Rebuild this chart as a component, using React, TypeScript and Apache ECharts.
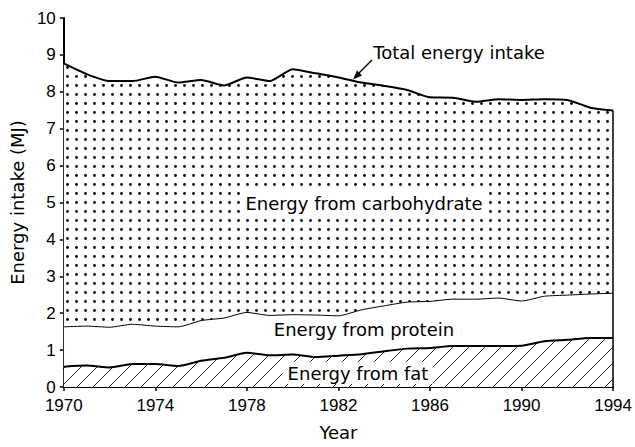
import React, { useEffect, useRef } from "react";
import * as echarts from "echarts";

const years = [
  "1970", "1971", "1972", "1973", "1974", "1975", "1976", "1977", "1978", "1979",
  "1980", "1981", "1982", "1983", "1984", "1985", "1986", "1987", "1988", "1989",
  "1990", "1991", "1992", "1993", "1994",
];
const fat = [
  0.55, 0.58, 0.53, 0.62, 0.62, 0.57, 0.71, 0.79, 0.93, 0.86,
  0.88, 0.81, 0.85, 0.89, 0.97, 1.04, 1.06, 1.11, 1.11, 1.11,
  1.12, 1.24, 1.28, 1.33, 1.33,
];
const protein = [
  1.08, 1.07, 1.09, 1.08, 1.03, 1.06, 1.09, 1.08, 1.09, 1.08,
  1.08, 1.14, 1.08, 1.2, 1.23, 1.26, 1.26, 1.27, 1.27, 1.3,
  1.21, 1.22, 1.21, 1.19, 1.21,
];
const carbohydrate = [
  7.14, 6.83, 6.67, 6.59, 6.76, 6.62, 6.52, 6.3, 6.37, 6.35,
  6.65, 6.55, 6.46, 6.16, 5.96, 5.75, 5.53, 5.46, 5.35, 5.39,
  5.45, 5.34, 5.29, 5.05, 4.95,
];
const yTicks = { min: 0, max: 10, interval: 1 };
const labels = {
  total: "Total energy intake",
  carbohydrate: "Energy from carbohydrate",
  protein: "Energy from protein",
  fat: "Energy from fat",
  xName: "Year",
  yName: "Energy intake (MJ)",
};

function dotCanvas() {
  const c = document.createElement("canvas");
  c.width = 9;
  c.height = 9;
  const ctx = c.getContext("2d")!;
  ctx.fillStyle = "#fff";
  ctx.fillRect(0, 0, 9, 9);
  ctx.fillStyle = "#000";
  ctx.beginPath();
  ctx.arc(4.5, 4.5, 1.4, 0, Math.PI * 2);
  ctx.fill();
  return c;
}

function hatchCanvas() {
  const s = 16;
  const c = document.createElement("canvas");
  c.width = s;
  c.height = s;
  const ctx = c.getContext("2d")!;
  ctx.fillStyle = "#fff";
  ctx.fillRect(0, 0, s, s);
  ctx.strokeStyle = "#222";
  ctx.lineWidth = 1;
  for (const off of [-s, 0, s]) {
    ctx.beginPath();
    ctx.moveTo(off, s);
    ctx.lineTo(off + s, 0);
    ctx.stroke();
  }
  return c;
}

const FONT = "DejaVu Sans";
const TICKFONT = "Liberation Sans";

export default function App() {
  const ref = useRef<HTMLDivElement>(null);
  useEffect(() => {
    if (!ref.current) return;
    const chart = echarts.init(ref.current, undefined, { renderer: "svg" });
    const dots = dotCanvas();
    const hatch = hatchCanvas();
    const last = years.length - 1;
    const totalLast = fat[last] + protein[last] + carbohydrate[last];
    chart.setOption({
      animation: false,
      backgroundColor: "#fff",
      grid: { left: 63, right: 19, top: 18, bottom: 60 },
      xAxis: {
        type: "category",
        data: years,
        boundaryGap: false,
        name: labels.xName,
        nameLocation: "middle",
        nameGap: 36,
        nameTextStyle: { fontFamily: FONT, fontSize: 18, color: "#000" },
        axisLine: { lineStyle: { color: "#000", width: 2 } },
        axisTick: { interval: 3, length: 4, lineStyle: { color: "#000", width: 1.5 } },
        axisLabel: { interval: 3, margin: 10, fontFamily: TICKFONT, fontSize: 17, color: "#000" },
        splitLine: { show: false },
      },
      yAxis: {
        type: "value",
        min: yTicks.min,
        max: yTicks.max,
        interval: yTicks.interval,
        name: labels.yName,
        nameLocation: "middle",
        nameGap: 36,
        nameTextStyle: { fontFamily: FONT, fontSize: 18, color: "#000" },
        axisLine: { show: true, lineStyle: { color: "#000", width: 2 } },
        axisTick: { show: true, length: 4, lineStyle: { color: "#000", width: 1.5 } },
        axisLabel: { margin: 8, fontFamily: TICKFONT, fontSize: 17, color: "#000" },
        splitLine: { show: false },
      },
      series: [
        {
          name: labels.fat,
          type: "line",
          stack: "energy",
          data: fat,
          symbol: "none",
          smooth: 0.2,
          lineStyle: { color: "#000", width: 2 },
          areaStyle: { color: { image: hatch, repeat: "repeat", imageWidth: 16, imageHeight: 16 }, opacity: 1 },
          z: 2,
        },
        {
          name: labels.protein,
          type: "line",
          stack: "energy",
          data: protein,
          symbol: "none",
          smooth: 0.2,
          lineStyle: { color: "#000", width: 1 },
          areaStyle: { color: "#fff", opacity: 1 },
          z: 2,
        },
        {
          name: labels.carbohydrate,
          type: "line",
          stack: "energy",
          data: carbohydrate,
          symbol: "none",
          smooth: 0.2,
          lineStyle: { color: "#000", width: 2 },
          areaStyle: { color: { image: dots, repeat: "repeat", imageWidth: 9, imageHeight: 9 }, opacity: 1 },
          z: 2,
          markLine: {
            silent: true,
            symbol: "none",
            label: { show: false },
            lineStyle: { color: "#000", width: 1.5, type: "solid" },
            data: [[{ coord: [years[last], 0] }, { coord: [years[last], totalLast] }]],
          },
        },
      ],
      graphic: [
        {
          type: "text",
          z: 100,
          style: {
            text: labels.total, x: 459, y: 52, align: "center", verticalAlign: "middle",
            font: `18px "${FONT}"`, fill: "#000",
          },
        },
        {
          type: "line",
          z: 100,
          shape: { x1: 372, y1: 60, x2: 358, y2: 74 },
          style: { stroke: "#000", lineWidth: 1.5 },
        },
        {
          type: "polygon",
          z: 100,
          shape: { points: [[353, 79.5], [362, 75.5], [357, 70.5]] },
          style: { fill: "#000" },
        },
        {
          type: "text",
          z: 100,
          style: {
            text: labels.carbohydrate, x: 364, y: 203, align: "center", verticalAlign: "middle",
            font: `18px "${FONT}"`, fill: "#000", backgroundColor: "#fff", padding: [3, 5, 3, 5],
          },
        },
        {
          type: "text",
          z: 100,
          style: {
            text: labels.protein, x: 364, y: 329, align: "center", verticalAlign: "middle",
            font: `18px "${FONT}"`, fill: "#000",
          },
        },
        {
          type: "text",
          z: 100,
          style: {
            text: labels.fat, x: 358, y: 373, align: "center", verticalAlign: "middle",
            font: `18px "${FONT}"`, fill: "#000", backgroundColor: "#fff", padding: [2, 5, 2, 5],
          },
        },
      ],
    });
    return () => chart.dispose();
  }, []);
  return (
    <div
      ref={ref}
      style={{ position: "absolute", left: 0, top: 0, width: 635, height: 447 }}
    />
  );
}
